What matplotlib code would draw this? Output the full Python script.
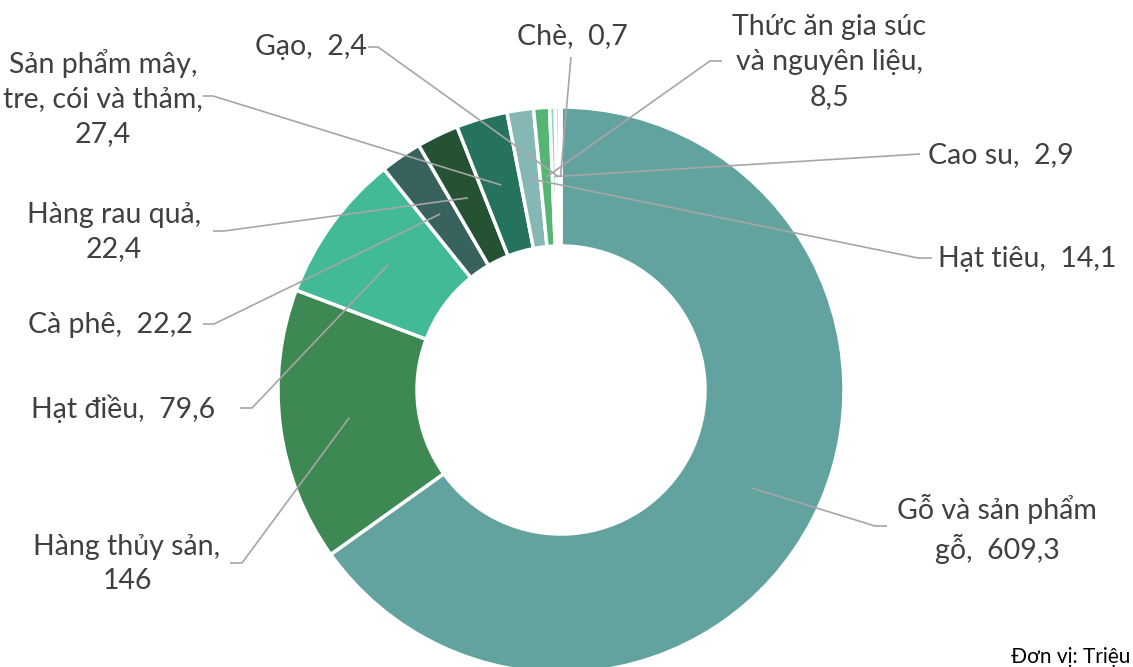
import numpy as np
import matplotlib
matplotlib.use("Agg")
import matplotlib.pyplot as plt

plt.rcParams['font.family'] = ['Lato', 'Open Sans', 'DejaVu Sans']

# ---- data ----
categories = ["Gỗ và sản phẩm gỗ", "Hàng thủy sản", "Hạt điều", "Cà phê", "Hàng rau quả",
              "Sản phẩm mây, tre, cói và thảm", "Hạt tiêu", "Thức ăn gia súc và nguyên liệu",
              "Cao su", "Gạo", "Chè"]
values = [609.3, 146, 79.6, 22.2, 22.4, 27.4, 14.1, 8.5, 2.9, 2.4, 0.7]
label_texts = ["Gỗ và sản phẩm\ngỗ,  609,3", "Hàng thủy sản,\n146", "Hạt điều,  79,6",
               "Cà phê,  22,2", "Hàng rau quả,\n22,4", "Sản phẩm mây,\ntre, cói và thảm,\n27,4",
               "Hạt tiêu,  14,1", "Thức ăn gia súc\nvà nguyên liệu,\n8,5", "Cao su,  2,9",
               "Gạo,  2,4", "Chè,  0,7"]
colors = ["#62A39F", "#3E8853", "#42BA98", "#38625E", "#255232", "#26735D",
          "#85B8B4", "#56B574", "#8ED3C0", "#B5E0D6", "#DDF0EB"]
unit_text = "Đơn vị: Triệu"

# ---- layout (image pixel coords, y down) ----
W, H = 1133, 667
cx, cy = 561, 390
R_out, R_in = 283, 144
# text center (x, y), leader end (x, y), elbow (x, y) or None
layout = [
    ((997, 529), (887, 526), (875, 526)),
    ((127, 564), (230, 563), (242, 563)),
    ((123, 409), (240, 408), (252, 408)),
    ((110, 325), (203, 324), (214, 324)),
    ((114, 232), (213, 231), (224, 231)),
    ((103, 98), (203, 96), (213, 96)),
    ((1027, 259), (932, 258), (918, 258)),
    ((829, 62), (722, 61), (710, 61)),
    ((1001, 155), (920, 154), None),
    ((311, 47), (368, 47), (378, 47)),
    ((572, 36), (571, 57), None),
]

fig = plt.figure(figsize=(W / 100, H / 100), dpi=100)
ax = fig.add_axes([0, 0, 1, 1])

def Y(y):
    return H - y

wedges, _ = ax.pie(values, colors=colors, startangle=90, counterclock=False,
                   radius=R_out, center=(cx, Y(cy)),
                   wedgeprops=dict(width=R_out - R_in, edgecolor="white", linewidth=2.5))
ax.set_xlim(0, W)
ax.set_ylim(0, H)
ax.set_aspect("equal")
ax.axis("off")

r_mid = (R_out + R_in) / 2
txt_color = "#404040"
line_color = "#A6A6A6"
for w, txt, (tc, end, elbow) in zip(wedges, label_texts, layout):
    mid = np.deg2rad((w.theta1 + w.theta2) / 2)
    axp = cx + r_mid * np.cos(mid)
    ayp = Y(cy) + r_mid * np.sin(mid)
    xs = [axp]
    ys = [ayp]
    if elbow is not None:
        xs.append(elbow[0]); ys.append(Y(elbow[1]))
    xs.append(end[0]); ys.append(Y(end[1]))
    ax.plot(xs, ys, color=line_color, lw=1.2, solid_capstyle="butt", zorder=3)
    ax.text(tc[0], Y(tc[1]), txt, ha="center", va="center", fontsize=20.5,
            color=txt_color, linespacing=1.42, zorder=4)

fig.text(1130 / W, 1 - 657 / H, unit_text, ha="right", va="center", fontsize=15, color="#000000")

fig.savefig("out.png", dpi=100)
